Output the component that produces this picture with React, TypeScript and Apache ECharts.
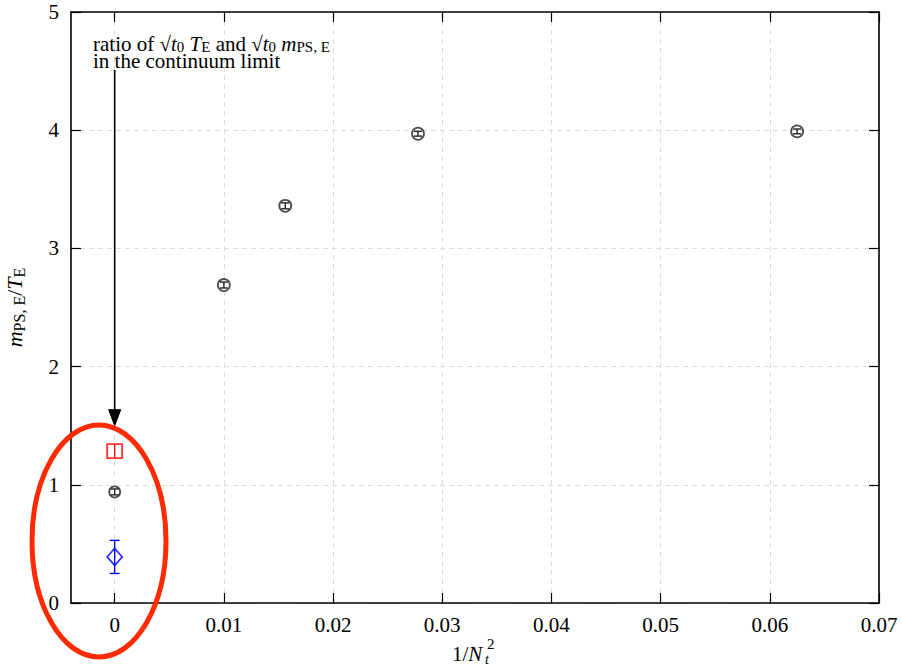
import React, { useEffect, useRef } from "react";
import * as echarts from "echarts";

// x tick values and labels
const xTickValues = [0, 0.01, 0.02, 0.03, 0.04, 0.05, 0.06, 0.07];
const xTickLabels = ["0", "0.01", "0.02", "0.03", "0.04", "0.05", "0.06", "0.07"];
const xMin = -0.004;
const xMax = 0.07;
const yMin = 0;
const yMax = 5;
const yInterval = 1;

// finite lattice ratios m_PS,E / T_E vs 1/Nt^2
const latticeX = [0.01, 0.015625, 0.027778, 0.0625];
const latticeY = [2.69, 3.36, 3.97, 3.99];
const latticeErr = [0.025, 0.025, 0.02, 0.02];

// continuum limit (black circle)
const contX = [0];
const contY = [0.94];
const contErr = [0.025];

// ratio of sqrt(t0) T_E and sqrt(t0) m_PS,E in the continuum limit (red square)
const redX = [0];
const redY = [1.285];
const redErr = [0.055];

// blue diamond
const blueX = [0];
const blueY = [0.39];
const blueErr = [0.14];

// arrow (x, from y, to y)
const arrowX = [0];
const arrowFrom = [4.51];
const arrowTo = [1.5];

const SERIF = "'Liberation Serif', 'DejaVu Serif', serif";

function errBarSeries(xs: number[], ys: number[], es: number[], color: string, capHalf: number) {
  return {
    type: "custom",
    xAxisIndex: 0,
    yAxisIndex: 0,
    data: xs.map((x, i) => [x, ys[i], es[i]]),
    renderItem: (params: any, api: any) => {
      const x = api.value(0);
      const y = api.value(1);
      const e = api.value(2);
      const top = api.coord([x, y + e]);
      const bot = api.coord([x, y - e]);
      const style = { stroke: color, lineWidth: 1.4, fill: "none" };
      return {
        type: "group",
        children: [
          { type: "line", shape: { x1: top[0], y1: top[1], x2: bot[0], y2: bot[1] }, style },
          { type: "line", shape: { x1: top[0] - capHalf, y1: top[1], x2: top[0] + capHalf, y2: top[1] }, style },
          { type: "line", shape: { x1: bot[0] - capHalf, y1: bot[1], x2: bot[0] + capHalf, y2: bot[1] }, style },
        ],
      };
    },
    z: 3,
  };
}

function markerSeries(xs: number[], ys: number[], symbol: string, size: any, color: string) {
  return {
    type: "scatter",
    xAxisIndex: 0,
    yAxisIndex: 0,
    data: xs.map((x, i) => [x, ys[i]]),
    symbol,
    symbolSize: size,
    itemStyle: { color: "transparent", borderColor: color, borderWidth: 1.8 },
    z: 4,
  };
}

const txt = (size: number, extra: any = {}) => ({ fontFamily: SERIF, fontSize: size, color: "#000", fill: "#000", ...extra });

export default function App() {
  const ref = useRef<HTMLDivElement>(null);

  useEffect(() => {
    if (!ref.current) return;
    const chart = echarts.init(ref.current, undefined, { renderer: "svg" });

    const axisLine = { show: true, onZero: false, lineStyle: { color: "#000", width: 1.6 } };
    const axisTick = { show: true, inside: true, length: 10, lineStyle: { color: "#000", width: 1.2 } };
    const split = { show: true, lineStyle: { color: "#dcdcdc", width: 1, type: [5, 4] } };

    const annRich = {
      r: txt(21),
      sq: txt(21),
      it: txt(21, { fontStyle: "italic" }),
      sub: txt(15, { padding: [5, 0, 0, 0] }),
    };

    const option: any = {
      animation: false,
      backgroundColor: "#fff",
      textStyle: { fontFamily: SERIF },
      grid: { left: 71, right: 23, top: 12, bottom: 65, containLabel: false, outerBoundsMode: "none" },
      xAxis: [
        {
          type: "value",
          position: "bottom",
          min: xMin,
          max: xMax,
          axisLine,
          axisTick: { ...axisTick, customValues: xTickValues },
          axisLabel: {
            customValues: xTickValues,
            formatter: (v: number) => {
              const i = xTickValues.findIndex((t) => Math.abs(t - v) < 1e-9);
              return i >= 0 ? xTickLabels[i] : "";
            },
            color: "#000",
            fontFamily: SERIF,
            fontSize: 21,
            margin: 11,
          },
          splitLine: split,
        },
        {
          type: "value",
          position: "top",
          min: xMin,
          max: xMax,
          axisLine,
          axisTick: { ...axisTick, customValues: xTickValues },
          axisLabel: { show: false, customValues: xTickValues },
          splitLine: { show: false },
        },
      ],
      yAxis: [
        {
          type: "value",
          position: "left",
          min: yMin,
          max: yMax,
          interval: yInterval,
          axisLine,
          axisTick,
          axisLabel: { color: "#000", fontFamily: SERIF, fontSize: 21, margin: 12 },
          splitLine: split,
          name: "{it|m}{sub|PS, E}{n|/}{it|T}{sub|E}",
          nameLocation: "middle",
          nameRotate: 90,
          nameGap: 44,
          nameTextStyle: {
            fontFamily: SERIF,
            fontSize: 22,
            color: "#000",
            rich: {
              it: txt(22, { fontStyle: "italic" }),
              n: txt(22),
              sub: txt(16, { padding: [9, 0, 0, 0] }),
            },
          },
        },
        {
          type: "value",
          position: "right",
          min: yMin,
          max: yMax,
          interval: yInterval,
          axisLine,
          axisTick,
          axisLabel: { show: false },
          splitLine: { show: false },
        },
      ],
      series: [
        // arrow
        {
          type: "custom",
          xAxisIndex: 0,
          yAxisIndex: 0,
          data: arrowX.map((x, i) => [x, arrowFrom[i], arrowTo[i]]),
          renderItem: (params: any, api: any) => {
            const x = api.value(0);
            const a = api.coord([x, api.value(1)]);
            const b = api.coord([x, api.value(2)]);
            return {
              type: "group",
              children: [
                { type: "line", shape: { x1: a[0], y1: a[1], x2: b[0], y2: b[1] - 12 }, style: { stroke: "#000", lineWidth: 1.6 } },
                {
                  type: "polygon",
                  shape: { points: [[b[0] - 6, b[1] - 16], [b[0] + 6, b[1] - 16], [b[0], b[1]]] },
                  style: { fill: "#000", stroke: "#000", lineWidth: 1 },
                },
              ],
            };
          },
          z: 2,
        },
        errBarSeries(latticeX, latticeY, latticeErr, "#222", 4),
        markerSeries(latticeX, latticeY, "circle", 12, "#222"),
        errBarSeries(contX, contY, contErr, "#222", 4),
        markerSeries(contX, contY, "circle", 11, "#222"),
        errBarSeries(redX, redY, redErr, "#ff0000", 0),
        markerSeries(redX, redY, "rect", [15, 14], "#ff0000"),
        errBarSeries(blueX, blueY, blueErr, "#0000ff", 5),
        markerSeries(blueX, blueY, "diamond", [15, 17], "#0000ff"),
      ],
      graphic: [
        {
          type: "text",
          x: 93,
          y: 44,
          style: {
            text: "{r|ratio of }{sq|√}{it|t}{sub|0}{r| }{it|T}{sub|E}{r| and }{sq|√}{it|t}{sub|0}{r| }{it|m}{sub|PS, E}",
            verticalAlign: "middle",
            ...txt(21),
            rich: annRich,
          },
          z: 10,
        },
        {
          type: "text",
          x: 93,
          y: 61,
          style: {
            text: "{r|in the continuum limit}",
            verticalAlign: "middle",
            ...txt(21),
            rich: annRich,
          },
          z: 10,
        },
        {
          type: "text",
          x: 452,
          y: 654,
          style: {
            text: "{r|1/}{it|N}",
            verticalAlign: "middle",
            ...txt(21),
            rich: { r: txt(21), it: txt(21, { fontStyle: "italic" }) },
          },
        },
        {
          type: "text",
          x: 485,
          y: 659,
          style: { text: "t", ...txt(14, { fontStyle: "italic" }), verticalAlign: "middle" },
        },
        {
          type: "text",
          x: 487,
          y: 644,
          style: { text: "2", ...txt(15), verticalAlign: "middle" },
        },
        {
          type: "ellipse",
          shape: { cx: 99, cy: 541, rx: 67, ry: 116 },
          style: { fill: "none", stroke: "#ff2a00", lineWidth: 5 },
          z: 20,
        },
      ],
    };

    chart.setOption(option);
    return () => chart.dispose();
  }, []);

  return (
    <div
      ref={ref}
      style={{ position: "fixed", left: 0, top: 0, width: 902, height: 668, background: "#fff" }}
    />
  );
}
